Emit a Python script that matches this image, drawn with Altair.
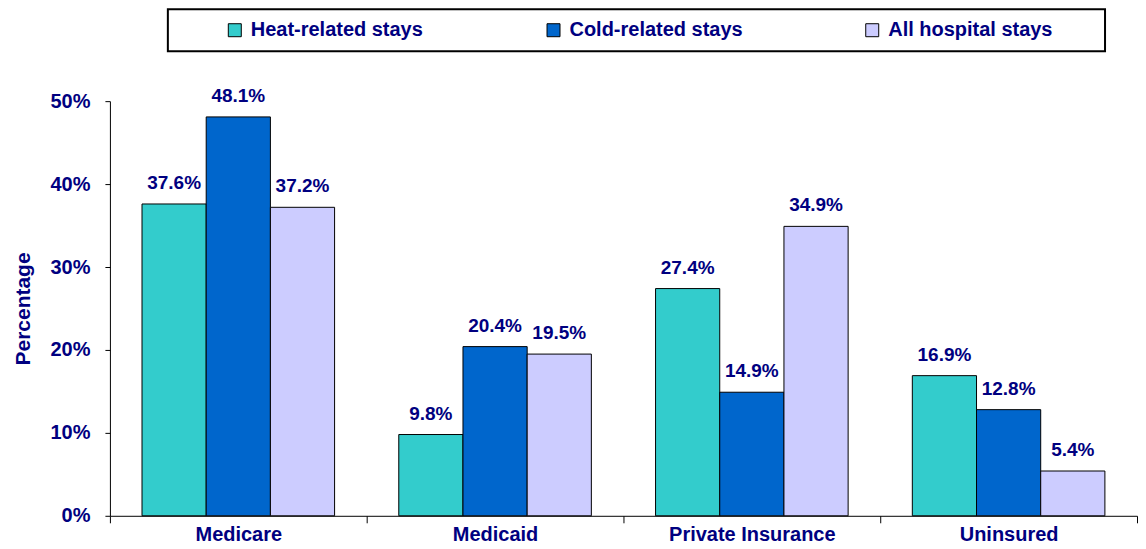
import altair as alt
import pandas as pd

categories = ["Medicare", "Medicaid", "Private Insurance", "Uninsured"]
series = ["Heat-related stays", "Cold-related stays", "All hospital stays"]
heat = [37.6, 9.8, 27.4, 16.9]
cold = [48.1, 20.4, 14.9, 12.8]
all_stays = [37.2, 19.5, 34.9, 5.4]
colors = ["#33CCCC", "#0066CC", "#CCCCFF"]
y_ticks = [0, 10, 20, 30, 40, 50]

rows = []
for s, vals in zip(series, [heat, cold, all_stays]):
    for c, v in zip(categories, vals):
        rows.append({"category": c, "series": s, "value": v})
df = pd.DataFrame(rows)

FONT = "Liberation Sans"
NAVY = "#000080"

base = alt.Chart(df).encode(
    x=alt.X(
        "category:N",
        sort=categories,
        scale=alt.Scale(paddingInner=0, paddingOuter=0),
        axis=alt.Axis(
            title=None,
            tickBand="extent",
            labelAngle=0,
            labelFont=FONT,
            labelFontSize=20,
            labelFontWeight="bold",
            labelColor=NAVY,
            labelPadding=2,
            tickSize=7,
            tickColor="black",
            domainColor="black",
            domainWidth=1,
        ),
    ),
    xOffset=alt.XOffset(
        "series:N", sort=series, scale=alt.Scale(paddingInner=0, paddingOuter=0.5)
    ),
    y=alt.Y(
        "value:Q",
        scale=alt.Scale(domain=[0, 50], nice=False),
        axis=alt.Axis(
            values=y_ticks,
            labelExpr="datum.value + '%'",
            title="Percentage",
            titleFont=FONT,
            titleFontSize=21,
            titleFontWeight="bold",
            titleColor=NAVY,
            titlePadding=16,
            labelFont=FONT,
            labelFontSize=20,
            labelFontWeight="bold",
            labelColor=NAVY,
            labelPadding=15,
            tickSize=5,
            tickColor="black",
            domainColor="black",
            grid=False,
        ),
    ),
)

bars = base.mark_bar(stroke="black", strokeWidth=1).encode(
    color=alt.Color(
        "series:N",
        sort=series,
        scale=alt.Scale(domain=series, range=colors),
        legend=alt.Legend(
            orient="none",
            legendX=58,
            legendY=-92,
            direction="horizontal",
            columns=3,
            gridAlign="all",
            columnPadding=73,
            symbolType="square",
            symbolSize=169,
            symbolStrokeColor="black",
            symbolStrokeWidth=1,
            symbolOffset=46,
            labelFont=FONT,
            labelFontSize=20,
            labelFontWeight="bold",
            labelColor=NAVY,
            labelOffset=6,
            labelLimit=400,
            title="\u00a0",
            titleOrient="right",
            titlePadding=42,
            titleFontSize=20,
            padding=11,
            strokeColor="black",
            fillColor="white",
        ),
    )
)

labels = base.mark_text(
    dy=-15,
    baseline="alphabetic",
    align="center",
    font=FONT,
    fontSize=19,
    fontWeight="bold",
    color=NAVY,
).transform_calculate(
    label="format(datum.value, '.1f') + '%'"
).encode(text="label:N")

chart = (
    alt.layer(bars, labels)
    .properties(
        width=1028,
        height=415,
        padding={"left": 4, "top": 0, "right": 0, "bottom": 0},
        background="white",
    )
    .configure_view(stroke=None)
    .configure_legend(strokeWidth=2)
)

chart.save("out.html", embed_options={"renderer": "svg", "actions": False})
